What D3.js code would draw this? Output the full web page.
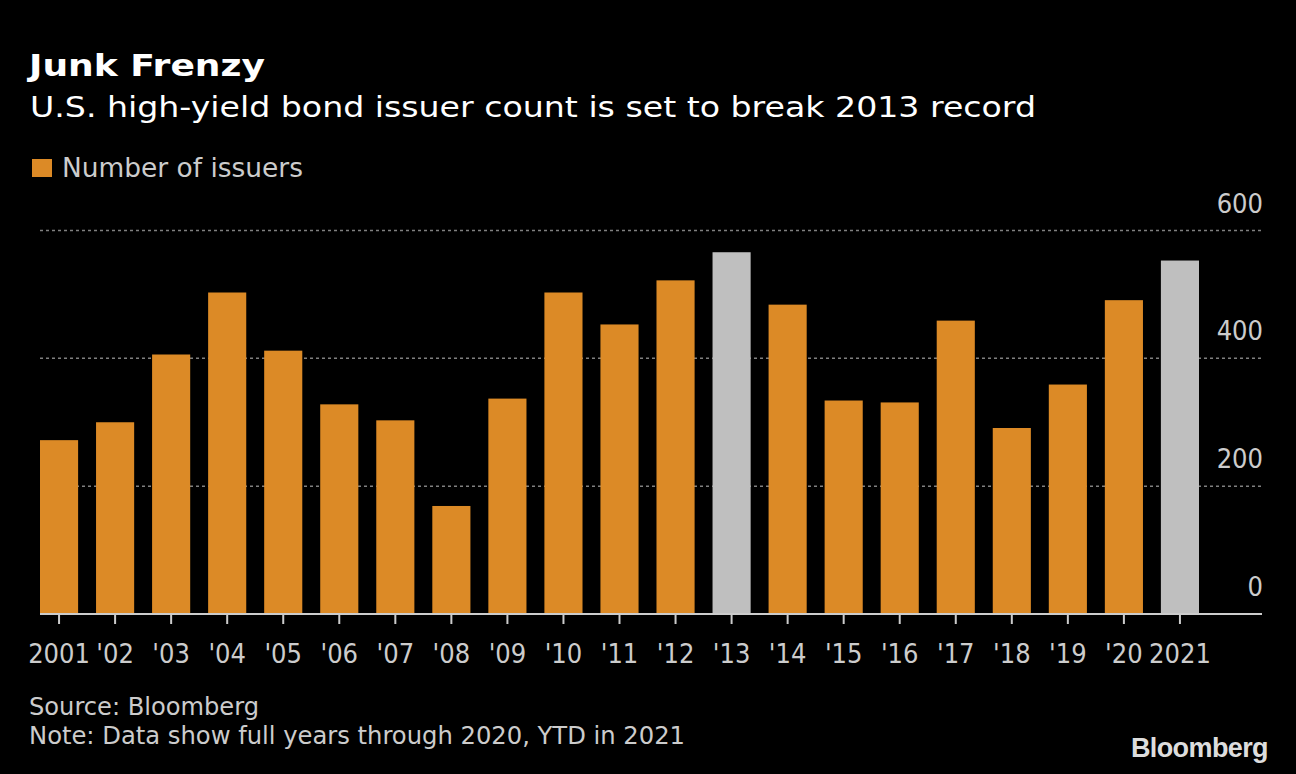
<!DOCTYPE html>
<html><head><meta charset="utf-8">
<script src="https://cdn.jsdelivr.net/npm/d3@7"></script>
<style>
html,body{margin:0;padding:0;background:#000;}
svg{display:block;}
</style></head>
<body>
<svg id="chart" width="1296" height="774"></svg>
<script>
const years = ["2001","'02","'03","'04","'05","'06","'07","'08","'09","'10","'11","'12","'13","'14","'15","'16","'17","'18","'19","'20","2021"];
const issuers = [272,300,406,503,412,328,303,169,337,503,453,522,566,484,334,331,459,291,359,491,553];
const highlighted = ["'13","2021"];
const yTicks = [0,200,400,600];

const font = "'DejaVu Sans', sans-serif";
const cfont = "'DejaVu Sans Condensed', 'DejaVu Sans', sans-serif";
const svg = d3.select("#chart");
svg.append("rect").attr("width",1296).attr("height",774).attr("fill","#000");

const x = d3.scaleBand().domain(years).range([40,1199]).paddingInner(0.32).paddingOuter(0);
const y = d3.scaleLinear().domain([0,600]).range([614,230.5]);

// gridlines
svg.append("g").selectAll("line").data(yTicks.filter(d=>d>0)).join("line")
  .attr("x1",40).attr("x2",1263).attr("y1",d=>y(d)).attr("y2",d=>y(d))
  .attr("stroke","#808080").attr("stroke-width",1.5).attr("stroke-dasharray","3,3");

// y labels
svg.append("g").selectAll("text").data(yTicks).join("text")
  .attr("x",1263).attr("y",d=>y(d)-18).attr("text-anchor","end")
  .attr("fill","#ccc").attr("font-family",cfont).attr("font-size",27).text(d=>d);

// bars
svg.append("g").selectAll("rect").data(years).join("rect")
  .attr("x",d=>x(d)).attr("width",x.bandwidth())
  .attr("y",(d,i)=>y(issuers[i])).attr("height",(d,i)=>y(0)-y(issuers[i]))
  .attr("fill",d=>highlighted.includes(d)?"#bfbfbf":"#dc8a26");

// x axis
const xAxis = d3.axisBottom(x).tickSize(10).tickPadding(12);
const gx = svg.append("g").attr("transform","translate(0,614)").call(xAxis);
gx.select(".domain").remove();
gx.selectAll(".tick line").attr("stroke","#ccc").attr("stroke-width",2);
gx.selectAll(".tick text").attr("fill","#ccc").attr("font-family",cfont).attr("font-size",27)
  .attr("y",49).attr("dy",null);
svg.append("line").attr("x1",40).attr("x2",1262).attr("y1",614).attr("y2",614)
  .attr("stroke","#ccc").attr("stroke-width",2);

// titles
svg.append("text").attr("x",29).attr("y",76).attr("fill","#fff")
  .attr("font-family",font).attr("font-weight","bold").attr("font-size",31)
  .attr("textLength",236).attr("lengthAdjust","spacingAndGlyphs").text("Junk Frenzy");
svg.append("text").attr("x",30).attr("y",117).attr("fill","#fff")
  .attr("font-family",font).attr("font-size",29)
  .attr("textLength",1006).attr("lengthAdjust","spacingAndGlyphs")
  .text("U.S. high-yield bond issuer count is set to break 2013 record");

// legend
svg.append("rect").attr("x",32).attr("y",159).attr("width",20).attr("height",18).attr("fill","#dc8a26");
svg.append("text").attr("x",62).attr("y",177).attr("fill","#ccc")
  .attr("font-family",cfont).attr("font-size",26)
  .attr("textLength",241).attr("lengthAdjust","spacingAndGlyphs").text("Number of issuers");

// footer
svg.append("text").attr("x",29).attr("y",715).attr("fill","#ccc")
  .attr("font-family",cfont).attr("font-size",24)
  .attr("textLength",230).attr("lengthAdjust","spacingAndGlyphs").text("Source: Bloomberg");
svg.append("text").attr("x",29).attr("y",744).attr("fill","#ccc")
  .attr("font-family",cfont).attr("font-size",24)
  .attr("textLength",656).attr("lengthAdjust","spacingAndGlyphs")
  .text("Note: Data show full years through 2020, YTD in 2021");
svg.append("text").attr("x",1268).attr("y",757).attr("text-anchor","end").attr("fill","#ddd")
  .attr("font-family","'Liberation Sans', Arial, sans-serif").attr("font-weight","bold")
  .attr("font-size",27).attr("letter-spacing",-0.6).text("Bloomberg");
</script>
</body></html>
